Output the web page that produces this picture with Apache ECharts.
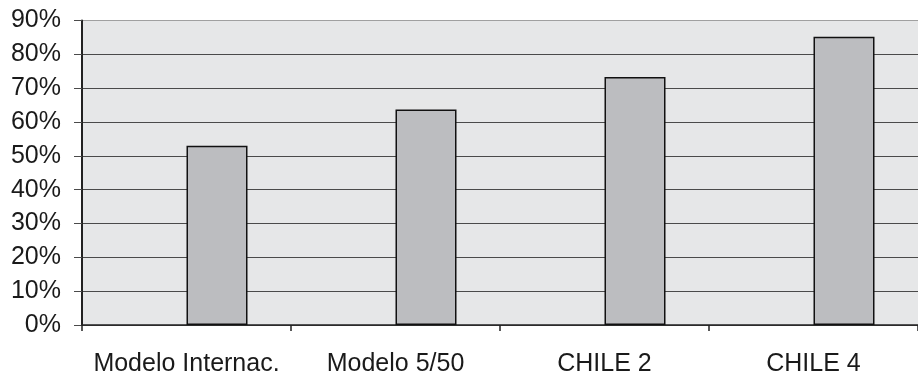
<!DOCTYPE html>
<html>
<head>
<meta charset="utf-8">
<script src="https://cdn.jsdelivr.net/npm/echarts@6/dist/echarts.min.js"></script>
<style>
  html, body { margin: 0; padding: 0; background: #ffffff; }
  #chart { width: 918px; height: 375px; }
</style>
</head>
<body>
<div id="chart"></div>
<script>
// Categories and values (share of total, 0..1)
const categories = ['Modelo Internac.', 'Modelo 5/50', 'CHILE 2', 'CHILE 4'];
const values = [0.530, 0.637, 0.733, 0.852];
// Empty companion series keeps the bars to the right of each category centre
const emptySeries = [null, null, null, null];

const yMin = 0, yMax = 0.9, yStep = 0.1;

const chart = echarts.init(document.getElementById('chart'), null, { renderer: 'canvas' });

const gridColors = ['#4a4a4a', '#4a4a4a', '#4a4a4a', '#4a4a4a', '#4a4a4a',
                    '#4a4a4a', '#4a4a4a', '#4a4a4a', '#4a4a4a', '#a0a0a0'];

chart.setOption({
  animation: false,
  backgroundColor: '#ffffff',
  grid: {
    left: 82, right: 0, top: 20.5, bottom: 50,
    outerBoundsMode: 'none', containLabel: false,
    show: true, backgroundColor: '#e6e7e8', borderWidth: 0
  },
  xAxis: {
    type: 'category',
    data: categories,
    axisLine: { show: true, lineStyle: { color: '#222222', width: 1.5 } },
    axisTick: { show: true, length: 6, lineStyle: { color: '#222222', width: 1.5 } },
    axisLabel: {
      color: '#1a1a1a', fontFamily: 'Liberation Sans, Arial, sans-serif',
      fontSize: 25, margin: 27, interval: 0
    },
    splitLine: { show: false }
  },
  yAxis: {
    type: 'value',
    min: yMin, max: yMax, interval: yStep,
    axisLine: { show: true, lineStyle: { color: '#222222', width: 2 } },
    axisTick: { show: true, length: 8, lineStyle: { color: '#4a4a4a', width: 1 } },
    axisLabel: {
      color: '#1a1a1a', fontFamily: 'Liberation Sans, Arial, sans-serif',
      fontSize: 25, margin: 21,
      formatter: v => Math.round(v * 100) + '%',
      padding: [8, 0, 0, 0]
    },
    splitLine: { show: true, lineStyle: { color: gridColors, width: 1 } }
  },
  series: [
    {
      type: 'bar', data: emptySeries, barWidth: 61, barGap: '0%',
      itemStyle: { color: '#bcbdc0' }
    },
    {
      type: 'bar', data: values, barWidth: 61, barGap: '0%',
      itemStyle: { color: '#bcbdc0', borderColor: '#111111', borderWidth: 1.5 }
    }
  ]
});
</script>
</body>
</html>
